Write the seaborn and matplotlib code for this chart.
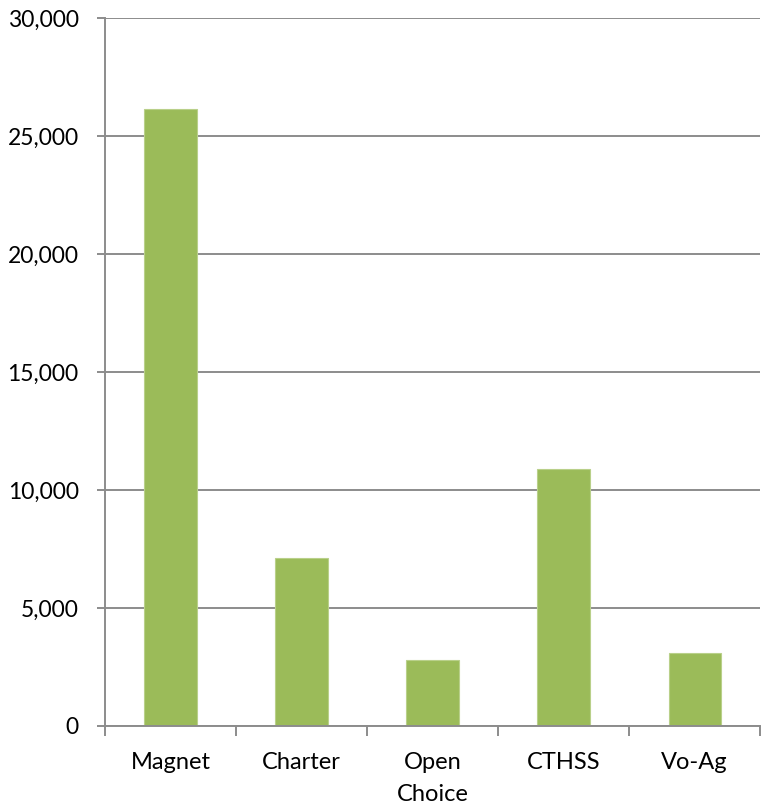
import matplotlib
matplotlib.use("Agg")
import matplotlib.pyplot as plt
import seaborn as sns
import pandas as pd
import numpy as np
from matplotlib.ticker import FuncFormatter, FixedLocator

# data
schools = ["Magnet", "Charter", "Open\nChoice", "CTHSS", "Vo-Ag"]
students = [26150, 7120, 2800, 10890, 3090]

df = pd.DataFrame({"school": schools, "students": students})

sns.set_style("white")
plt.rcParams["font.family"] = ["Lato", "DejaVu Sans"]

fig = plt.figure(figsize=(7.61, 8.08), dpi=100)
ax = fig.add_axes([0.138, 0.1015, 0.861, 0.876])

sns.barplot(data=df, x="school", y="students", color="#9BBB59",
            saturation=1, width=0.4, edgecolor="#B9D08A", linewidth=0.8, ax=ax)

ax.set_ylim(0, 30000)
ax.set_xlim(-0.5, 4.5)
ax.set_yticks(np.arange(0, 30001, 5000))
ax.yaxis.set_major_formatter(FuncFormatter(lambda v, p: f"{int(v):,}"))
ax.grid(axis="y", color="#8C8C8C", linewidth=1.4)
ax.set_axisbelow(True)

ax.set_xlabel("")
ax.set_ylabel("")

for s in ["top", "right"]:
    ax.spines[s].set_visible(False)
for s in ["left", "bottom"]:
    ax.spines[s].set_color("#8C8C8C")
    ax.spines[s].set_linewidth(1.4)

ax.tick_params(axis="y", direction="out", length=6, width=1.4, color="#8C8C8C",
               labelsize=16.5, pad=13, left=True, labelcolor="black")
ax.tick_params(axis="x", which="major", length=0, labelsize=17, pad=19,
               labelcolor="black")
for lbl in ax.get_xticklabels():
    lbl.set_linespacing(1.6)
ax.xaxis.set_minor_locator(FixedLocator(np.arange(-0.5, 5, 1.0)))
ax.tick_params(axis="x", which="minor", direction="out", length=7, width=1.4,
               color="#8C8C8C", bottom=True)

fig.savefig("out.png", dpi=100)
